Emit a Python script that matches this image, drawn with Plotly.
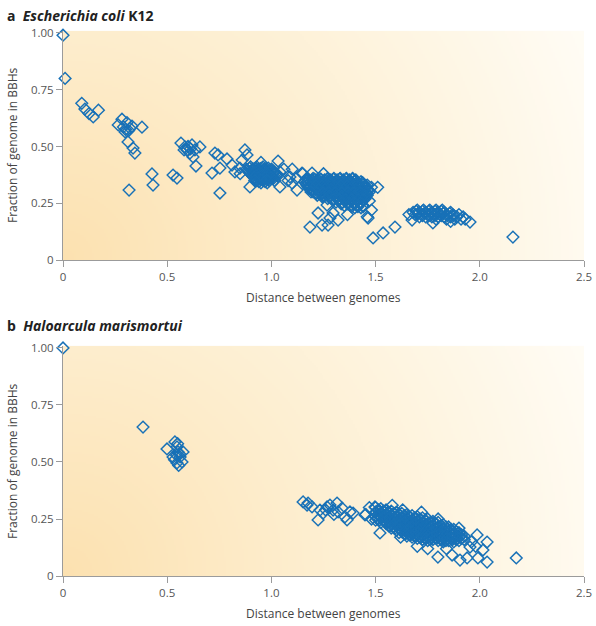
import base64, struct, zlib, math
import plotly.graph_objects as go

# ---------------- data ----------------
# Panel a: Escherichia coli K12
a_x = [
    0.00, 0.01,
    0.09, 0.105, 0.125, 0.145, 0.17,
    0.265, 0.283, 0.29, 0.307, 0.298, 0.322, 0.331, 0.379, 0.312, 0.336, 0.345, 0.30, 0.315,
    0.317, 0.427, 0.432, 0.528, 0.547,
    0.566, 0.585, 0.595, 0.619, 0.609, 0.633, 0.657, 0.624, 0.638, 0.581, 0.60, 0.612,
    0.715, 0.729, 0.744, 0.753, 0.753, 0.787, 0.811, 0.825, 0.849, 0.873, 0.883, 0.86, 0.897, 0.85,
    # cluster near 0.95
    0.90, 0.93, 0.96,
    0.88, 0.91, 0.94, 0.97, 1.00,
    0.89, 0.92, 0.95, 0.98, 1.01,
    0.90, 0.93, 0.96, 0.99, 1.02,
    0.91, 0.94, 0.97, 1.00, 1.03,
    0.92, 0.95, 0.98, 1.01,
    0.93, 0.96, 0.99,
    0.95, 0.98,
    0.895, 0.925, 0.955, 0.985,
    0.885, 0.915, 0.945, 0.975, 1.005,
    0.895, 0.925, 0.955, 0.985, 1.015,
    0.905, 0.935, 0.965, 0.995, 1.025,
    0.915, 0.945, 0.975, 1.005,
    0.925, 0.955, 0.985,
    0.94, 0.97,
    0.9175, 0.9475, 0.9775,
    0.9075, 0.9375, 0.9675, 0.9975,
    0.9175, 0.9475, 0.9775, 1.0075,
    0.9275, 0.9575, 0.9875,
    0.9375, 0.9675, 0.9975,
    0.9475, 0.9775,
    1.032, 1.041, 1.089, 1.099, 1.041, 0.95, 0.92, 1.06, 1.015,
    # between clusters
    1.12, 1.147, 1.195, 1.123, 1.10, 1.08,
    # cluster near 1.3
    1.17, 1.20, 1.23, 1.27, 1.30, 1.33, 1.36, 1.39,
    1.16, 1.19, 1.22, 1.25, 1.28, 1.31, 1.34, 1.37, 1.40, 1.43,
    1.17, 1.20, 1.23, 1.26, 1.29, 1.32, 1.35, 1.38, 1.41, 1.44, 1.46,
    1.18, 1.21, 1.24, 1.27, 1.30, 1.33, 1.36, 1.39, 1.42, 1.45,
    1.20, 1.23, 1.26, 1.29, 1.32, 1.35, 1.38, 1.41, 1.44, 1.47,
    1.22, 1.25, 1.28, 1.31, 1.34, 1.37, 1.40, 1.43, 1.46,
    1.27, 1.30, 1.33, 1.36, 1.39, 1.42, 1.45,
    1.31, 1.34, 1.37, 1.40, 1.43,
    1.35, 1.38, 1.41, 1.44,
    1.40, 1.43,
    1.165, 1.195, 1.225, 1.255, 1.285, 1.315, 1.345, 1.375, 1.405,
    1.165, 1.195, 1.225, 1.255, 1.285, 1.315, 1.345, 1.375, 1.405, 1.435,
    1.175, 1.205, 1.235, 1.265, 1.295, 1.325, 1.355, 1.385, 1.415, 1.445,
    1.195, 1.225, 1.255, 1.285, 1.315, 1.345, 1.375, 1.405, 1.435, 1.46,
    1.215, 1.245, 1.275, 1.305, 1.335, 1.365, 1.395, 1.425, 1.455,
    1.245, 1.275, 1.305, 1.335, 1.365, 1.395, 1.425, 1.45,
    1.295, 1.325, 1.355, 1.385, 1.415, 1.44,
    1.335, 1.365, 1.395, 1.425,
    1.385, 1.415, 1.44,
    1.1775, 1.2075, 1.2375, 1.2675, 1.2975, 1.3275, 1.3575, 1.3875,
    1.1725, 1.2025, 1.2325, 1.2625, 1.2925, 1.3225, 1.3525, 1.3825, 1.4125, 1.4375,
    1.1825, 1.2125, 1.2425, 1.2725, 1.3025, 1.3325, 1.3625, 1.3925, 1.4225, 1.4525,
    1.1975, 1.2275, 1.2575, 1.2875, 1.3175, 1.3475, 1.3775, 1.4075, 1.4375, 1.4625,
    1.2175, 1.2475, 1.2775, 1.3075, 1.3375, 1.3675, 1.3975, 1.4275, 1.4575,
    1.2475, 1.2775, 1.3075, 1.3375, 1.3675, 1.3975, 1.4275, 1.4525,
    1.2975, 1.3275, 1.3575, 1.3875, 1.4175, 1.4425,
    1.3375, 1.3675, 1.3975, 1.4275,
    1.15, 1.19, 1.25, 1.48, 1.47, 1.51, 1.48, 1.46,
    1.185, 1.224, 1.243, 1.272, 1.281, 1.296, 1.267, 1.32, 1.365,
    1.488, 1.536, 1.593, 1.464,
    # cluster near 1.8
    1.70, 1.73, 1.76, 1.79, 1.82,
    1.68, 1.71, 1.74, 1.77, 1.80, 1.83, 1.86,
    1.69, 1.72, 1.75, 1.78, 1.81, 1.84, 1.87, 1.90,
    1.71, 1.74, 1.77, 1.80, 1.83, 1.86, 1.89, 1.92,
    1.79, 1.84, 1.88, 1.91,
    1.695, 1.725, 1.755, 1.785, 1.815,
    1.705, 1.735, 1.765, 1.795, 1.825, 1.855,
    1.725, 1.755, 1.785, 1.815, 1.845, 1.875,
    1.675, 1.775, 1.953, 1.66, 1.86, 1.93,
    2.159,
]
a_y = [
    0.99, 0.80,
    0.69, 0.665, 0.645, 0.63, 0.66,
    0.595, 0.62, 0.586, 0.605, 0.564, 0.58, 0.59, 0.585, 0.52, 0.493, 0.471, 0.575, 0.57,
    0.308, 0.379, 0.33, 0.374, 0.361,
    0.515, 0.498, 0.485, 0.507, 0.471, 0.485, 0.498, 0.454, 0.414, 0.485, 0.50, 0.49,
    0.383, 0.471, 0.463, 0.405, 0.295, 0.445, 0.418, 0.388, 0.405, 0.485, 0.463, 0.44, 0.322, 0.38,
    0.41, 0.41, 0.41,
    0.40, 0.40, 0.40, 0.40, 0.40,
    0.39, 0.39, 0.39, 0.39, 0.39,
    0.38, 0.38, 0.38, 0.38, 0.38,
    0.37, 0.37, 0.37, 0.37, 0.37,
    0.36, 0.36, 0.36, 0.36,
    0.35, 0.35, 0.35,
    0.34, 0.34,
    0.405, 0.405, 0.405, 0.405,
    0.395, 0.395, 0.395, 0.395, 0.395,
    0.385, 0.385, 0.385, 0.385, 0.385,
    0.375, 0.375, 0.375, 0.375, 0.375,
    0.365, 0.365, 0.365, 0.365,
    0.355, 0.355, 0.355,
    0.345, 0.345,
    0.4025, 0.4025, 0.4025,
    0.3925, 0.3925, 0.3925, 0.3925,
    0.3825, 0.3825, 0.3825, 0.3825,
    0.3725, 0.3725, 0.3725,
    0.3625, 0.3625, 0.3625,
    0.3525, 0.3525,
    0.436, 0.388, 0.366, 0.339, 0.322, 0.43, 0.35, 0.40, 0.35,
    0.36, 0.383, 0.383, 0.308, 0.40, 0.35,
    0.36, 0.36, 0.36, 0.36, 0.36, 0.36, 0.36, 0.36,
    0.345, 0.345, 0.345, 0.345, 0.345, 0.345, 0.345, 0.345, 0.345, 0.345,
    0.33, 0.33, 0.33, 0.33, 0.33, 0.33, 0.33, 0.33, 0.33, 0.33, 0.33,
    0.315, 0.315, 0.315, 0.315, 0.315, 0.315, 0.315, 0.315, 0.315, 0.315,
    0.30, 0.30, 0.30, 0.30, 0.30, 0.30, 0.30, 0.30, 0.30, 0.30,
    0.285, 0.285, 0.285, 0.285, 0.285, 0.285, 0.285, 0.285, 0.285,
    0.27, 0.27, 0.27, 0.27, 0.27, 0.27, 0.27,
    0.255, 0.255, 0.255, 0.255, 0.255,
    0.24, 0.24, 0.24, 0.24,
    0.23, 0.23,
    0.3525, 0.3525, 0.3525, 0.3525, 0.3525, 0.3525, 0.3525, 0.3525, 0.3525,
    0.3375, 0.3375, 0.3375, 0.3375, 0.3375, 0.3375, 0.3375, 0.3375, 0.3375, 0.3375,
    0.3225, 0.3225, 0.3225, 0.3225, 0.3225, 0.3225, 0.3225, 0.3225, 0.3225, 0.3225,
    0.3075, 0.3075, 0.3075, 0.3075, 0.3075, 0.3075, 0.3075, 0.3075, 0.3075, 0.3075,
    0.2925, 0.2925, 0.2925, 0.2925, 0.2925, 0.2925, 0.2925, 0.2925, 0.2925,
    0.2775, 0.2775, 0.2775, 0.2775, 0.2775, 0.2775, 0.2775, 0.2775,
    0.2625, 0.2625, 0.2625, 0.2625, 0.2625, 0.2625,
    0.2475, 0.2475, 0.2475, 0.2475,
    0.235, 0.235, 0.235,
    0.356, 0.356, 0.356, 0.356, 0.356, 0.356, 0.356, 0.356,
    0.341, 0.341, 0.341, 0.341, 0.341, 0.341, 0.341, 0.341, 0.341, 0.341,
    0.326, 0.326, 0.326, 0.326, 0.326, 0.326, 0.326, 0.326, 0.326, 0.326,
    0.311, 0.311, 0.311, 0.311, 0.311, 0.311, 0.311, 0.311, 0.311, 0.311,
    0.296, 0.296, 0.296, 0.296, 0.296, 0.296, 0.296, 0.296, 0.296,
    0.281, 0.281, 0.281, 0.281, 0.281, 0.281, 0.281, 0.281,
    0.266, 0.266, 0.266, 0.266, 0.266, 0.266,
    0.251, 0.251, 0.251, 0.251,
    0.38, 0.30, 0.38, 0.32, 0.26, 0.32, 0.22, 0.19,
    0.145, 0.207, 0.154, 0.154, 0.185, 0.207, 0.242, 0.176, 0.20,
    0.097, 0.119, 0.145, 0.185,
    0.22, 0.22, 0.22, 0.22, 0.22,
    0.21, 0.21, 0.21, 0.21, 0.21, 0.21, 0.21,
    0.20, 0.20, 0.20, 0.20, 0.20, 0.20, 0.20, 0.20,
    0.19, 0.19, 0.19, 0.19, 0.19, 0.19, 0.19, 0.19,
    0.18, 0.18, 0.18, 0.18,
    0.215, 0.215, 0.215, 0.215, 0.215,
    0.205, 0.205, 0.205, 0.205, 0.205, 0.205,
    0.195, 0.195, 0.195, 0.195, 0.195, 0.195,
    0.176, 0.163, 0.167, 0.20, 0.17, 0.18,
    0.101,
]

# Panel b: Haloarcula marismortui
b_x = [
    0.00, 0.384,
    0.499, 0.537, 0.547, 0.552, 0.528, 0.562, 0.576, 0.547, 0.571, 0.55, 0.545, 0.56, 0.535, 0.555,
    1.152, 1.171, 1.176, 1.195, 1.233, 1.224, 1.248, 1.267, 1.281, 1.296, 1.315, 1.320, 1.339,
    1.353, 1.363, 1.377, 1.392, 1.449, 1.497, 1.521, 1.507, 1.30, 1.26,
    1.50, 1.50, 1.50, 1.50,
    1.525, 1.525, 1.525, 1.525,
    1.55, 1.55, 1.55, 1.55,
    1.575, 1.575, 1.575, 1.575, 1.575,
    1.60, 1.60, 1.60, 1.60, 1.60,
    1.625, 1.625, 1.625, 1.625, 1.625,
    1.65, 1.65, 1.65, 1.65, 1.65, 1.65,
    1.675, 1.675, 1.675, 1.675, 1.675, 1.675,
    1.70, 1.70, 1.70, 1.70, 1.70, 1.70,
    1.725, 1.725, 1.725, 1.725, 1.725, 1.725,
    1.75, 1.75, 1.75, 1.75, 1.75, 1.75,
    1.775, 1.775, 1.775, 1.775, 1.775,
    1.80, 1.80, 1.80, 1.80, 1.80,
    1.825, 1.825, 1.825, 1.825, 1.825,
    1.85, 1.85, 1.85, 1.85,
    1.875, 1.875, 1.875, 1.875,
    1.90, 1.90, 1.90,
    1.925, 1.925,
    1.5125, 1.5125, 1.5125,
    1.5375, 1.5375, 1.5375,
    1.5625, 1.5625, 1.5625, 1.5625,
    1.5875, 1.5875, 1.5875, 1.5875,
    1.6125, 1.6125, 1.6125, 1.6125, 1.6125,
    1.6375, 1.6375, 1.6375, 1.6375, 1.6375,
    1.6625, 1.6625, 1.6625, 1.6625, 1.6625,
    1.6875, 1.6875, 1.6875, 1.6875, 1.6875,
    1.7125, 1.7125, 1.7125, 1.7125, 1.7125,
    1.7375, 1.7375, 1.7375, 1.7375, 1.7375,
    1.7625, 1.7625, 1.7625, 1.7625, 1.7625,
    1.7875, 1.7875, 1.7875, 1.7875,
    1.8125, 1.8125, 1.8125, 1.8125,
    1.8375, 1.8375, 1.8375, 1.8375,
    1.8625, 1.8625, 1.8625,
    1.8875, 1.8875, 1.8875,
    1.9125, 1.9125,
    1.519, 1.519, 1.519,
    1.544, 1.544, 1.544,
    1.569, 1.569, 1.569, 1.569,
    1.594, 1.594, 1.594, 1.594,
    1.619, 1.619, 1.619, 1.619,
    1.644, 1.644, 1.644, 1.644, 1.644,
    1.669, 1.669, 1.669, 1.669, 1.669,
    1.694, 1.694, 1.694, 1.694, 1.694,
    1.719, 1.719, 1.719, 1.719, 1.719,
    1.744, 1.744, 1.744, 1.744, 1.744,
    1.769, 1.769, 1.769, 1.769,
    1.794, 1.794, 1.794, 1.794,
    1.819, 1.819, 1.819, 1.819,
    1.844, 1.844, 1.844,
    1.869, 1.869, 1.869,
    1.894, 1.894,
    1.453, 1.47, 1.48, 1.58, 1.63, 1.72, 1.80, 1.90, 1.62, 1.70, 1.75, 1.84,
    1.799, 1.867, 1.905, 1.939, 1.991, 2.035, 2.015, 2.035, 1.987, 1.953, 1.96, 1.98,
    2.175,
]
b_y = [
    1.00, 0.653,
    0.557, 0.588, 0.566, 0.544, 0.522, 0.522, 0.544, 0.496, 0.50, 0.58, 0.53, 0.535, 0.51, 0.485,
    0.325, 0.311, 0.320, 0.303, 0.289, 0.246, 0.276, 0.303, 0.311, 0.289, 0.320, 0.281, 0.298,
    0.259, 0.246, 0.281, 0.276, 0.268, 0.303, 0.189, 0.254, 0.27, 0.29,
    0.30, 0.28, 0.26, 0.245,
    0.295, 0.275, 0.255, 0.235,
    0.29, 0.27, 0.25, 0.23,
    0.285, 0.265, 0.245, 0.225, 0.21,
    0.28, 0.26, 0.24, 0.22, 0.20,
    0.275, 0.255, 0.235, 0.215, 0.195,
    0.27, 0.25, 0.23, 0.21, 0.19, 0.175,
    0.265, 0.245, 0.225, 0.205, 0.185, 0.17,
    0.26, 0.24, 0.22, 0.20, 0.18, 0.165,
    0.255, 0.235, 0.215, 0.195, 0.175, 0.16,
    0.25, 0.23, 0.21, 0.19, 0.17, 0.155,
    0.24, 0.22, 0.20, 0.18, 0.16,
    0.235, 0.215, 0.195, 0.175, 0.155,
    0.225, 0.205, 0.185, 0.165, 0.15,
    0.215, 0.195, 0.175, 0.155,
    0.205, 0.185, 0.165, 0.15,
    0.19, 0.17, 0.155,
    0.175, 0.16,
    0.29, 0.27, 0.25,
    0.285, 0.265, 0.245,
    0.28, 0.26, 0.24, 0.22,
    0.275, 0.255, 0.235, 0.215,
    0.27, 0.25, 0.23, 0.21, 0.19,
    0.265, 0.245, 0.225, 0.205, 0.185,
    0.26, 0.24, 0.22, 0.20, 0.18,
    0.255, 0.235, 0.215, 0.195, 0.175,
    0.25, 0.23, 0.21, 0.19, 0.17,
    0.245, 0.225, 0.205, 0.185, 0.165,
    0.235, 0.215, 0.195, 0.175, 0.16,
    0.23, 0.21, 0.19, 0.17,
    0.22, 0.20, 0.18, 0.16,
    0.215, 0.195, 0.175, 0.155,
    0.205, 0.185, 0.165,
    0.195, 0.175, 0.16,
    0.18, 0.165,
    0.285, 0.265, 0.245,
    0.28, 0.26, 0.24,
    0.275, 0.255, 0.235, 0.22,
    0.27, 0.25, 0.23, 0.21,
    0.265, 0.245, 0.225, 0.205,
    0.26, 0.24, 0.22, 0.20, 0.185,
    0.255, 0.235, 0.215, 0.195, 0.18,
    0.25, 0.23, 0.21, 0.19, 0.175,
    0.245, 0.225, 0.205, 0.185, 0.17,
    0.24, 0.22, 0.20, 0.18, 0.165,
    0.23, 0.21, 0.19, 0.17,
    0.225, 0.205, 0.185, 0.165,
    0.215, 0.195, 0.175, 0.16,
    0.205, 0.185, 0.165,
    0.195, 0.175, 0.16,
    0.185, 0.165,
    0.27, 0.30, 0.25, 0.31, 0.29, 0.28, 0.25, 0.21, 0.17, 0.13, 0.12, 0.12,
    0.083, 0.092, 0.070, 0.079, 0.079, 0.061, 0.114, 0.149, 0.180, 0.127, 0.15, 0.13,
    0.079,
]

x_tickvals = [0, 0.5, 1.0, 1.5, 2.0, 2.5]
x_ticktext = ["0", "0.5", "1.0", "1.5", "2.0", "2.5"]
y_tickvals = [0, 0.25, 0.5, 0.75, 1.0]
y_ticktext = ["0", "0.25", "0.50", "0.75", "1.00"]

# ---------------- background gradient image ----------------
def gradient_png(w, h):
    stops = [(0.0, (252, 225, 176)), (0.4, (253, 237, 205)),
             (0.75, (254, 246, 228)), (1.0, (255, 252, 245))]
    def col(t):
        t = max(0.0, min(1.0, t))
        for (t0, c0), (t1, c1) in zip(stops[:-1], stops[1:]):
            if t <= t1:
                f = (t - t0) / (t1 - t0)
                return tuple(int(round(c0[k] + (c1[k] - c0[k]) * f)) for k in range(3))
        return stops[-1][1]
    rows = []
    for j in range(h):
        row = bytearray([0])
        py = (h - 1 - j) / (h - 1) * 230.0
        for i in range(w):
            px = i / (w - 1) * 521.0
            d = math.sqrt(px * px + py * py) / 569.0
            row.extend(col(d))
        rows.append(bytes(row))
    raw = b"".join(rows)
    def chunk(tag, data):
        c = struct.pack(">I", len(data)) + tag + data
        return c + struct.pack(">I", zlib.crc32(tag + data) & 0xffffffff)
    png = b"\x89PNG\r\n\x1a\n"
    png += chunk(b"IHDR", struct.pack(">IIBBBBB", w, h, 8, 2, 0, 0, 0))
    png += chunk(b"IDAT", zlib.compress(raw, 9))
    png += chunk(b"IEND", b"")
    return "data:image/png;base64," + base64.b64encode(png).decode()

bg = gradient_png(261, 116)

# ---------------- figure ----------------
W, H = 596, 626
blue = "#1871b7"
marker = dict(symbol="diamond-open", size=9, color=blue, line=dict(width=1.45, color=blue))

fig = go.Figure()
fig.add_trace(go.Scatter(x=a_x, y=a_y, mode="markers", marker=marker,
                         xaxis="x", yaxis="y", cliponaxis=False, showlegend=False))
fig.add_trace(go.Scatter(x=b_x, y=b_y, mode="markers", marker=marker,
                         xaxis="x2", yaxis="y2", cliponaxis=False, showlegend=False))

ymax = 1.01
def px2paper(py):
    return 1 - py / H

axis_common = dict(showgrid=False, zeroline=False, showline=True, linecolor="#9b9b9b",
                   linewidth=1, ticks="outside", ticklen=6, tickcolor="#9b9b9b",
                   tickfont=dict(family="Open Sans", size=11.5, color="#555555"),
                   automargin=False, fixedrange=True)

fig.update_layout(
    width=W, height=H,
    margin=dict(l=63, r=12, t=0, b=0),
    paper_bgcolor="white", plot_bgcolor="white",
    font=dict(family="Open Sans", color="#444444"),
    hovermode=False,
    xaxis=dict(axis_common, range=[0, 2.5], tickvals=x_tickvals, ticktext=x_ticktext,
               anchor="y", domain=[0, 1]),
    yaxis=dict(axis_common, range=[0, ymax], tickvals=y_tickvals, ticktext=y_ticktext,
               anchor="x", domain=[px2paper(260), px2paper(30.7)]),
    xaxis2=dict(axis_common, range=[0, 2.5], tickvals=x_tickvals, ticktext=x_ticktext,
                anchor="y2", domain=[0, 1]),
    yaxis2=dict(axis_common, range=[0, ymax], tickvals=y_tickvals, ticktext=y_ticktext,
                anchor="x2", domain=[px2paper(576), px2paper(345.7)]),
    images=[
        dict(source=bg, xref="x", yref="y", x=0, y=ymax, sizex=2.5, sizey=ymax,
             xanchor="left", yanchor="top", sizing="stretch", layer="below"),
        dict(source=bg, xref="x2", yref="y2", x=0, y=ymax, sizex=2.5, sizey=ymax,
             xanchor="left", yanchor="top", sizing="stretch", layer="below"),
    ],
)

def xp(px):
    return (px - 63) / 521.0

ann = []
title_font = dict(family="Open Sans", size=14, color="#222222")
ann.append(dict(text="<b>a</b>  <b><i>Escherichia coli</i> K12</b>", x=xp(5), y=px2paper(15),
                xref="paper", yref="paper", xanchor="left", yanchor="middle",
                showarrow=False, font=title_font))
ann.append(dict(text="<b>b</b>  <b><i>Haloarcula marismortui</i></b>", x=xp(5), y=px2paper(325),
                xref="paper", yref="paper", xanchor="left", yanchor="middle",
                showarrow=False, font=title_font))
lab_font = dict(family="Open Sans", size=12, color="#444444")
for ypx in (297, 613):
    ann.append(dict(text="Distance between genomes", x=0.5, y=px2paper(ypx), xref="paper",
                    yref="paper", xanchor="center", yanchor="middle", showarrow=False,
                    font=lab_font))
for ypx in (145, 461):
    ann.append(dict(text="Fraction of genome in BBHs", x=xp(12), y=px2paper(ypx), xref="paper",
                    yref="paper", xanchor="center", yanchor="middle", textangle=-90,
                    showarrow=False, font=lab_font))
fig.update_layout(annotations=ann)

fig.write_html("out.html", config={"displayModeBar": False, "staticPlot": True},
               post_script="document.body.style.margin='0px';document.body.style.overflow='hidden';")
